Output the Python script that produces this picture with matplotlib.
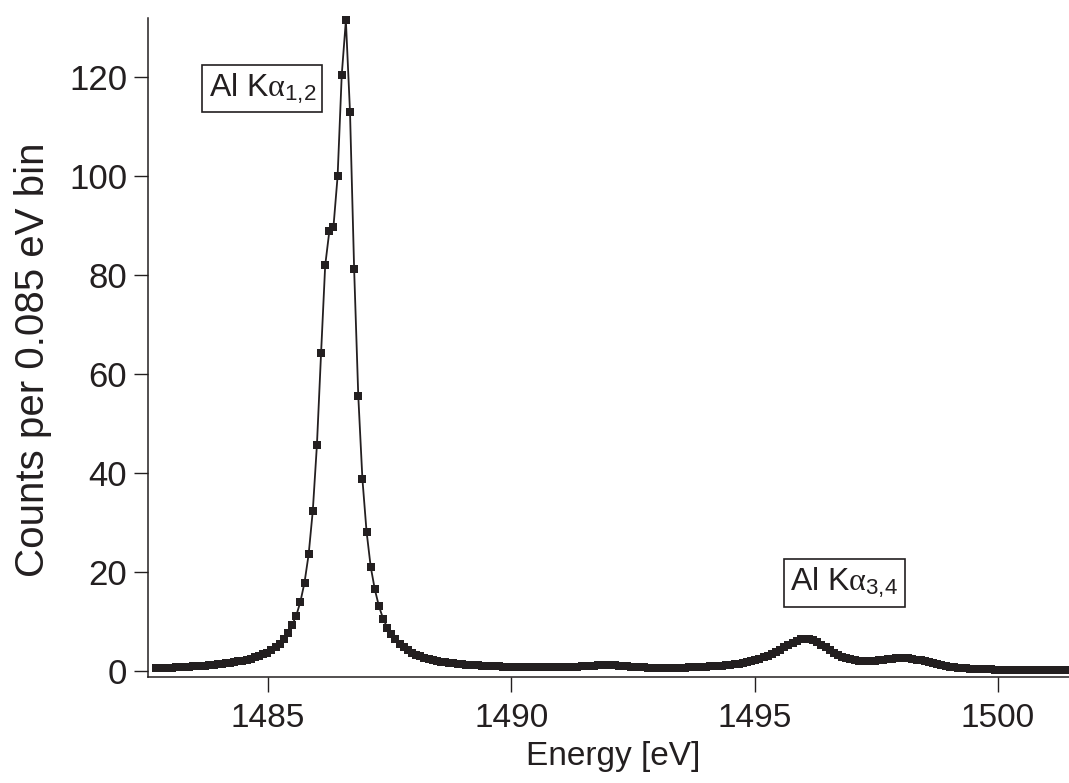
import numpy as np
import matplotlib
matplotlib.use('Agg')
import matplotlib.pyplot as plt

plt.rcParams['font.family'] = ['Liberation Sans', 'DejaVu Sans']
plt.rcParams['mathtext.fontset'] = 'custom'
plt.rcParams['mathtext.rm'] = 'Liberation Sans'
plt.rcParams['mathtext.it'] = 'Liberation Serif'

# 0.085 eV bins, first bin centre
e_start = 1482.687
bin_width = 0.085

counts = [
    0.55, 0.6, 0.6, 0.65, 0.7, 0.75, 0.8, 0.85, 0.9, 0.95,
    1.0, 1.05, 1.1, 1.2, 1.25, 1.35, 1.45, 1.55, 1.65, 1.8,
    1.95, 2.1, 2.3, 2.5, 2.75, 3.0, 3.35, 3.75, 4.2, 4.8,
    5.5, 6.4, 7.6, 9.3, 11.2, 14.0, 17.9, 23.6, 32.4, 45.7,
    64.2, 82.0, 88.9, 89.8, 100.0, 120.5, 131.5, 113.0, 81.2, 55.6,
    38.8, 28.2, 21.1, 16.5, 13.1, 10.6, 8.8, 7.5, 6.4, 5.5,
    4.8, 4.2, 3.7, 3.3, 3.0, 2.7, 2.45, 2.25, 2.05, 1.9,
    1.75, 1.65, 1.55, 1.45, 1.4, 1.3, 1.25, 1.2, 1.15, 1.1,
    1.05, 1.0, 1.0, 0.95, 0.9, 0.9, 0.85, 0.85, 0.8, 0.8,
    0.8, 0.75, 0.75, 0.75, 0.75, 0.75, 0.75, 0.75, 0.75, 0.8,
    0.8, 0.85, 0.9, 0.95, 1.0, 1.05, 1.1, 1.15, 1.2, 1.2,
    1.2, 1.15, 1.1, 1.05, 1.0, 0.9, 0.85, 0.8, 0.75, 0.7,
    0.7, 0.65, 0.65, 0.65, 0.65, 0.65, 0.65, 0.7, 0.7, 0.75,
    0.75, 0.8, 0.85, 0.9, 0.95, 1.0, 1.05, 1.1, 1.2, 1.3,
    1.4, 1.5, 1.65, 1.8, 2.0, 2.2, 2.45, 2.75, 3.1, 3.5,
    3.9, 4.35, 4.8, 5.25, 5.7, 6.1, 6.4, 6.55, 6.5, 6.25,
    5.85, 5.35, 4.8, 4.25, 3.75, 3.3, 2.9, 2.6, 2.35, 2.2,
    2.1, 2.0, 2.0, 2.05, 2.1, 2.2, 2.3, 2.4, 2.5, 2.55,
    2.6, 2.6, 2.55, 2.45, 2.3, 2.15, 1.95, 1.75, 1.55, 1.35,
    1.2, 1.05, 0.9, 0.8, 0.7, 0.6, 0.55, 0.5, 0.45, 0.4,
    0.4, 0.35, 0.35, 0.3, 0.3, 0.3, 0.25, 0.25, 0.25, 0.2,
    0.2, 0.2, 0.2, 0.2, 0.2, 0.2, 0.15, 0.15, 0.15, 0.15,
    0.15,
]
energy = e_start + bin_width * np.arange(len(counts))

x_ticks = [1485, 1490, 1495, 1500]
y_ticks = [0, 20, 40, 60, 80, 100, 120]

ink = '#231f20'

fig = plt.figure(figsize=(10.69, 7.83), dpi=100)
ax = fig.add_axes([148 / 1069, 1 - 677 / 783, 1 - 148 / 1069, (677 - 18) / 783])

ax.plot(energy, counts, color=ink, lw=1.3, marker='s', markersize=6,
        markeredgewidth=0, clip_on=False)

ax.set_xlim(1482.53, 1501.46)
ax.set_ylim(-1.2, 132)
ax.set_xticks(x_ticks)
ax.set_yticks(y_ticks)

for side in ['top', 'right']:
    ax.spines[side].set_visible(False)
for side in ['left', 'bottom']:
    ax.spines[side].set_linewidth(1.1)
    ax.spines[side].set_color(ink)

ax.tick_params(axis='x', direction='out', length=11, width=1.0, pad=8,
               labelsize=24, colors=ink)
ax.tick_params(axis='y', direction='out', length=10, width=1.0, pad=5,
               labelsize=25, colors=ink)

ax.set_xlabel('Energy [eV]', fontsize=24, color=ink)
ax.set_ylabel('Counts per 0.085 eV bin', fontsize=29, color=ink)
ax.xaxis.set_label_coords(0.505, -0.097)
ax.yaxis.set_label_coords(-0.104, 0.481)

box = dict(boxstyle='square,pad=0.2', fc='white', ec=ink, lw=1.2)
ax.text(1484.88, 117.8, r'Al K$\alpha_{1{,}2}$', fontsize=23, color=ink,
        ha='center', va='center', bbox=box)
ax.text(1496.84, 17.8, r'Al K$\alpha_{3{,}4}$', fontsize=23, color=ink,
        ha='center', va='center', bbox=box)

fig.savefig('out.png', dpi=100)
